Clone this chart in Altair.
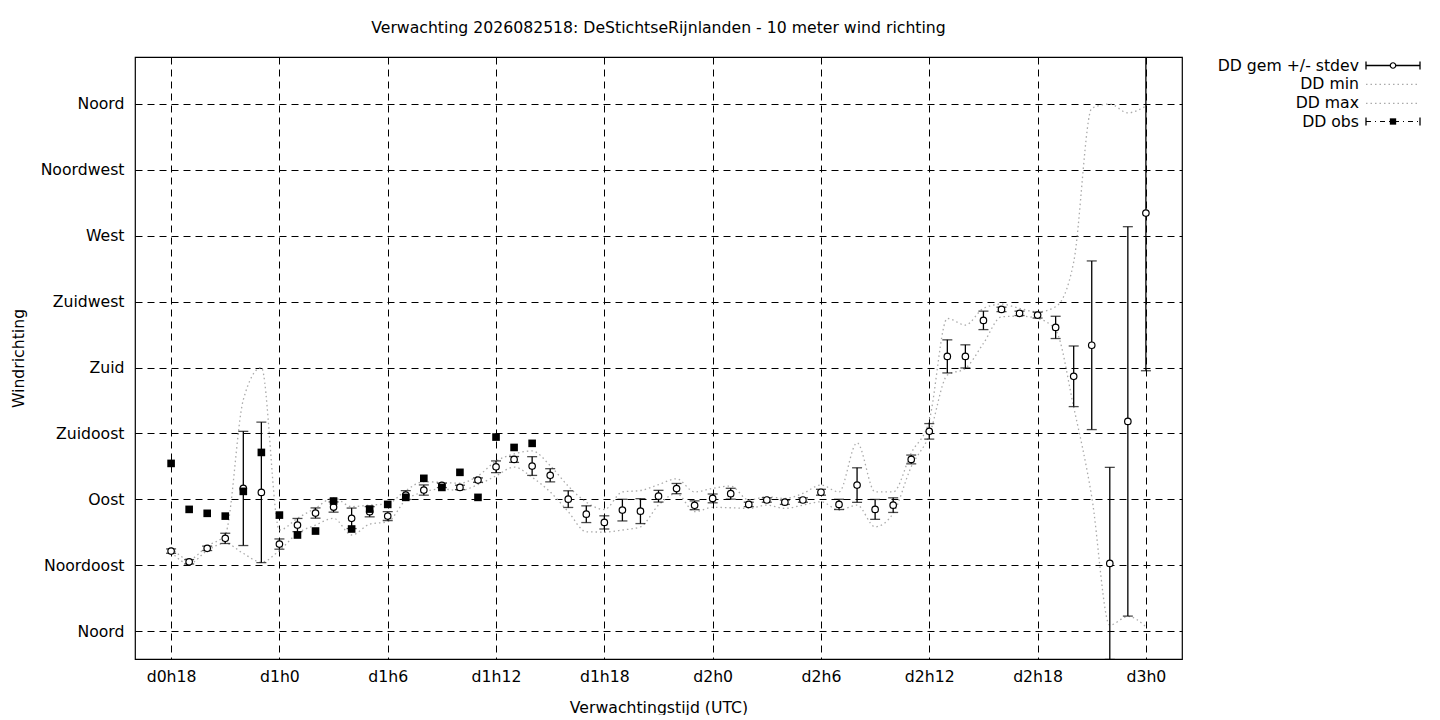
import altair as alt
import pandas as pd

# ---------------- data ----------------
hours = list(range(18, 73))  # hours since d0h0, hourly from d0h18 to d3h0

dd_mean = [54.6, 47.3, 56.5, 63.3, 97.4, 94.7,
           59.4, 72.4, 80.6, 84.7, 77.0, 81.5, 78.5, 92.9, 96.3, 99.5, 98.1, 103.1,
           112.2, 117.2, 112.7, 106.4, 90.1, 79.8, 74.2, 82.6, 81.9, 92.1, 97.3, 85.9,
           90.6, 93.8, 86.5, 89.5, 88.0, 89.5, 94.8, 86.5, 99.7, 83.1, 86.0, 117.2,
           136.4, 187.6, 187.6, 212.2, 219.7, 217.0, 215.8, 207.4, 174.0, 195.2, 46.2, 143.2,
           285.5]
dd_sd = [1.5, 1.5, 1.5, 3.5, 39.0, 48.0,
         3.5, 4.5, 3.5, 3.5, 7.0, 3.5, 3.0, 3.0, 3.5, 1.5, 1.5, 1.5,
         4.0, 2.0, 6.4, 4.5, 5.7, 5.7, 4.5, 7.4, 8.5, 4.0, 3.5, 3.0,
         3.0, 3.7, 1.5, 1.5, 1.5, 1.5, 2.0, 3.5, 11.8, 6.8, 5.0, 3.0,
         5.3, 11.3, 7.9, 6.3, 1.5, 1.5, 2.0, 7.6, 20.7, 57.6, 65.6, 133.0,
         107.7]
dd_min = [54, 46, 55, 60, 53, 47,
          55, 66.7, 72.4, 77, 65.6, 73, 74.7, 89.5, 95, 97, 96, 100,
          106, 112, 105, 95, 81.5, 67.8, 67.6, 69, 71.2, 86, 94, 81.5,
          84.5, 84.2, 83.8, 86, 83.8, 86, 88.3, 82.6, 86, 71.2, 80.4, 112.2,
          133.9, 174.8, 179.4, 196.5, 214.6, 215.1, 213.5, 205.6, 153, 91.7, 4, 10,
          3]
dd_max = [57, 49, 58, 66, 158, 180,
          69, 77, 84, 91, 85, 86, 87, 96, 102, 101.5, 101, 106,
          116, 121, 123, 113, 99, 88, 83, 95, 96, 100, 104, 95,
          97.5, 99, 89.5, 91.7, 90.6, 94, 99.7, 95, 128.6, 95, 95, 121.6,
          144, 213.5, 209, 220.4, 223.3, 220.4, 218, 221.5, 252, 357, 360, 354,
          358.5]

obs_hours = list(range(18, 39))
dd_obs = [114.5, 83.1, 80.4, 78.5, 95.4, 122.0,
          79.2, 65.6, 68.3, 88.8, 69.7, 83.3, 86.5, 91.3, 104.3, 98.1, 108.4, 91.3,
          132.5, 125.4, 128.2]

y_ticks = [0, 45, 90, 135, 180, 225, 270, 315, 360]
y_names = ["Noord", "Noordoost", "Oost", "Zuidoost", "Zuid",
           "Zuidwest", "West", "Noordwest", "Noord"]
x_ticks = [18, 24, 30, 36, 42, 48, 54, 60, 66, 72]

title_text = "Verwachting 2026082518: DeStichtseRijnlanden - 10 meter wind richting"
legend_labels = ["DD gem +/- stdev", "DD min", "DD max", "DD obs"]

# ---------------- tables ----------------
fc = pd.DataFrame({"hour": hours, "mean": dd_mean, "sd": dd_sd,
                   "dmin": dd_min, "dmax": dd_max})
fc["lo"] = fc["mean"] - fc["sd"]
fc["hi"] = fc["mean"] + fc["sd"]
obs = pd.DataFrame({"hour": obs_hours, "obs": dd_obs})

FONT = "DejaVu Sans"
FS = 15.7
W, H = 1047, 602

names_js = "[" + ",".join("'%s'" % n for n in y_names) + "]"

xscale = alt.Scale(domain=[16, 74], nice=False, zero=False)
yscale = alt.Scale(domain=[-19.1, 392.1], nice=False, zero=False)

x_axis = alt.Axis(values=x_ticks,
                  labelExpr="'d' + floor(datum.value / 24) + 'h' + (datum.value % 24)",
                  title="Verwachtingstijd (UTC)", grid=True, ticks=False,
                  labelPadding=10, titleY=48, titleBaseline="middle")
y_axis = alt.Axis(values=y_ticks,
                  labelExpr=names_js + "[round(datum.value / 45)]",
                  title="Windrichting", grid=True, ticks=False,
                  labelPadding=11, titleX=-117, titleY=301,
                  titleAngle=270, titleAlign="center", titleBaseline="middle")

base = alt.Chart(fc)

x_enc = alt.X("hour:Q", scale=xscale, axis=x_axis)

GREY = "#aaaaaa"
line_style = dict(stroke=GREY, strokeDash=[1.5, 3], strokeWidth=1.3,
                  interpolate="monotone", clip=True)
max_line = base.mark_line(**line_style).encode(
    x=x_enc, y=alt.Y("dmax:Q", scale=yscale, axis=y_axis))
min_line = base.mark_line(**line_style).encode(x="hour:Q", y="dmin:Q")

err = base.mark_rule(color="black", strokeWidth=1.3, clip=True).encode(
    x="hour:Q", y="lo:Q", y2="hi:Q")
cap_lo = base.mark_tick(orient="horizontal", size=10, thickness=1.3,
                        color="black", clip=True).encode(x="hour:Q", y="lo:Q")
cap_hi = base.mark_tick(orient="horizontal", size=10, thickness=1.3,
                        color="black", clip=True).encode(x="hour:Q", y="hi:Q")
pts = base.mark_point(shape="circle", filled=True, fill="white", stroke="black",
                      strokeWidth=1.2, size=42, opacity=1, clip=True).encode(
    x="hour:Q", y="mean:Q")

obs_pts = alt.Chart(obs).mark_point(shape="square", filled=True, color="black",
                                    size=58, opacity=1, clip=True).encode(
    x="hour:Q", y="obs:Q")

# ---------------- legend (gnuplot style, outside right) ----------------
one = alt.Data(values=[{"a": 1}])
LX_T, LX0, LX1, LXC = 1224, 1231, 1285, 1258
LY = [8.5, 27.3, 46.3, 64.5]

leg_texts = [alt.Chart(one).mark_text(align="right", baseline="middle", font=FONT,
                                      fontSize=FS, color="black", text=lab).encode(
    x=alt.value(LX_T), y=alt.value(LY[i])) for i, lab in enumerate(legend_labels)]

leg_layers = []
# row 0: errorbar with circle
leg_layers.append(alt.Chart(one).mark_rule(color="black", strokeWidth=1.3).encode(
    x=alt.value(LX0), x2=alt.value(LX1), y=alt.value(LY[0])))
for xv in (LX0, LX1):
    leg_layers.append(alt.Chart(one).mark_rule(color="black", strokeWidth=1.3).encode(
        x=alt.value(xv), y=alt.value(LY[0] - 4), y2=alt.value(LY[0] + 4)))
leg_layers.append(alt.Chart(one).mark_point(shape="circle", filled=True, fill="white",
                                            stroke="black", strokeWidth=1.2, size=30,
                                            opacity=1).encode(
    x=alt.value(LXC), y=alt.value(LY[0])))
# rows 1,2: dotted
for r in (1, 2):
    leg_layers.append(alt.Chart(one).mark_rule(stroke=GREY, strokeDash=[1.5, 3],
                                               strokeWidth=1.3).encode(
        x=alt.value(LX0), x2=alt.value(LX1), y=alt.value(LY[r])))
# row 3: obs dash-dot with square
leg_layers.append(alt.Chart(one).mark_rule(color="black", strokeWidth=1.2,
                                           strokeDash=[5, 4, 1, 4]).encode(
    x=alt.value(LX0), x2=alt.value(LX1), y=alt.value(LY[3])))
for xv in (LX0, LX1):
    leg_layers.append(alt.Chart(one).mark_rule(color="black", strokeWidth=1.3).encode(
        x=alt.value(xv), y=alt.value(LY[3] - 4), y2=alt.value(LY[3] + 4)))
leg_layers.append(alt.Chart(one).mark_point(shape="square", filled=True, color="black",
                                            size=40, opacity=1).encode(
    x=alt.value(LXC), y=alt.value(LY[3])))

chart = alt.layer(max_line, min_line, err, cap_lo, cap_hi, pts, obs_pts,
                  *leg_texts, *leg_layers).properties(
    width=W, height=H,
    title=alt.TitleParams(title_text, font=FONT, fontSize=FS, fontWeight="normal",
                          color="black", anchor="middle", offset=20),
    autosize=alt.AutoSizeParams(type="none"),
    padding={"left": 127, "top": 49, "right": 240, "bottom": 56},
    background="white",
).configure_view(
    stroke="black", strokeWidth=1.2
).configure_axis(
    labelFont=FONT, titleFont=FONT, labelFontSize=FS, titleFontSize=FS,
    labelColor="black", titleColor="black", titleFontWeight="normal",
    gridColor="black", gridDash=[7, 5], gridWidth=1, gridOpacity=1,
    domain=False,
)

chart.save("out.html", embed_options={"renderer": "svg", "actions": False})
